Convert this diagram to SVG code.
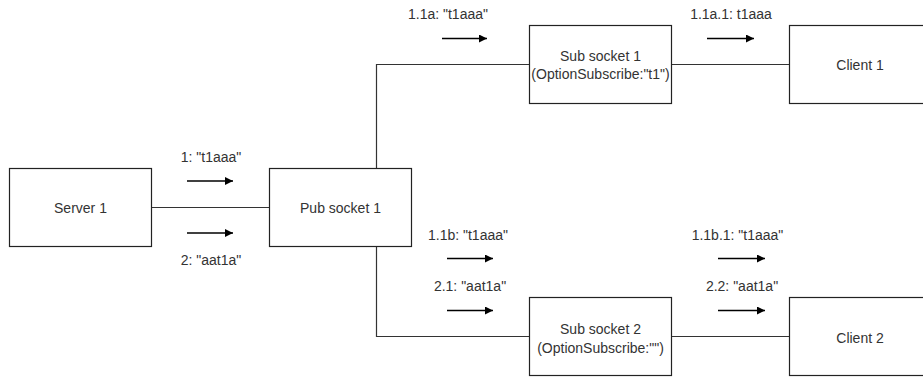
<svg xmlns="http://www.w3.org/2000/svg" width="923" height="377" viewBox="0 0 923 377">
<style>
.box{fill:#fff;stroke:#222;stroke-width:1.2}
.con{fill:none;stroke:#333;stroke-width:1.2}
.arr{fill:none;stroke:#000;stroke-width:1.5;marker-end:url(#ah)}
text{font-family:"Liberation Sans",Arial,sans-serif;font-size:14px;fill:#333;text-anchor:middle}
</style>
<defs>
<marker id="ah" markerWidth="10" markerHeight="10" refX="8" refY="4" orient="auto" markerUnits="userSpaceOnUse">
<path d="M0,0 L8,4 L0,8 Z" fill="#000"/>
</marker>
</defs>
<g id="connectors">
<line class="con" x1="151.5" y1="207.5" x2="269.5" y2="207.5"/>
<path class="con" d="M376.5 168.5 V64.5 H529.5"/>
<path class="con" d="M376.5 246.5 V336.5 H529.5"/>
<line class="con" x1="671.5" y1="64.5" x2="789.5" y2="64.5"/>
<line class="con" x1="671.5" y1="336.5" x2="789.5" y2="336.5"/>
</g>
<g id="messages">
<line class="arr" x1="187" y1="181" x2="233" y2="181"/>
<text x="211" y="162">1: "t1aaa"</text>
<line class="arr" x1="187" y1="233" x2="233" y2="233"/>
<text x="211" y="265">2: "aat1a"</text>
<line class="arr" x1="442" y1="38.5" x2="487" y2="38.5"/>
<text x="448" y="18.5">1.1a: "t1aaa"</text>
<line class="arr" x1="707" y1="38.5" x2="754" y2="38.5"/>
<text x="731" y="18.5">1.1a.1: t1aaa</text>
<line class="arr" x1="447" y1="258.5" x2="493" y2="258.5"/>
<text x="468" y="239.5">1.1b: "t1aaa"</text>
<line class="arr" x1="447" y1="310.5" x2="493" y2="310.5"/>
<text x="470" y="291">2.1: "aat1a"</text>
<line class="arr" x1="718" y1="258.5" x2="765" y2="258.5"/>
<text x="737.5" y="239.5">1.1b.1: "t1aaa"</text>
<line class="arr" x1="718" y1="310.5" x2="765" y2="310.5"/>
<text x="742" y="291">2.2: "aat1a"</text>
</g>
<g id="server1">
<rect class="box" x="9.5" y="168.5" width="142" height="78"/>
<text x="80.5" y="213">Server 1</text>
</g>
<g id="pubsocket1">
<rect class="box" x="269.5" y="168.5" width="142" height="78"/>
<text x="340.5" y="213">Pub socket 1</text>
</g>
<g id="subsocket1">
<rect class="box" x="529.5" y="25.5" width="142" height="78"/>
<text x="600.5" y="60.5">Sub socket 1</text>
<text x="600.5" y="78.5">(OptionSubscribe:"t1")</text>
</g>
<g id="client1">
<rect class="box" x="789.5" y="25.5" width="142" height="78"/>
<text x="860" y="69.5">Client 1</text>
</g>
<g id="subsocket2">
<rect class="box" x="529.5" y="297.5" width="142" height="78"/>
<text x="600.5" y="334">Sub socket 2</text>
<text x="600.5" y="353">(OptionSubscribe:"")</text>
</g>
<g id="client2">
<rect class="box" x="789.5" y="297.5" width="142" height="78"/>
<text x="860" y="343">Client 2</text>
</g>
</svg>
